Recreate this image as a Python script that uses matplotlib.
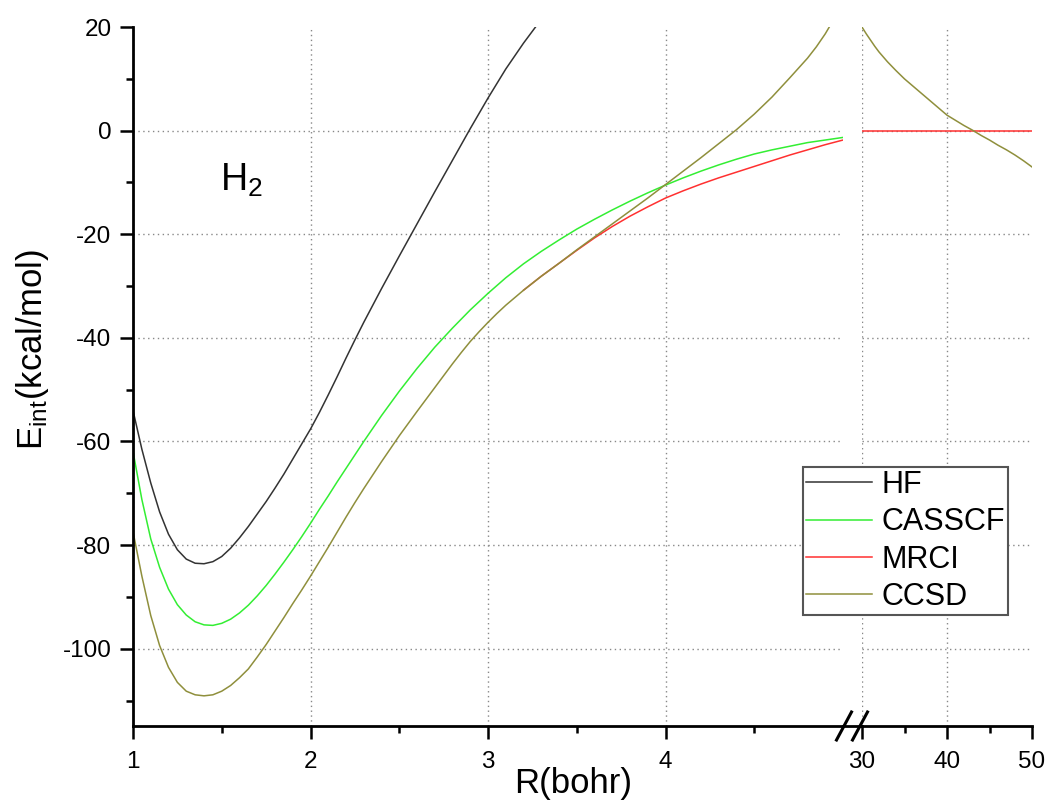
import matplotlib
matplotlib.use("Agg")
import matplotlib.pyplot as plt
from matplotlib.ticker import MultipleLocator, FixedLocator
from matplotlib.lines import Line2D

plt.rcParams['font.family'] = ['Liberation Sans', 'DejaVu Sans']
plt.rcParams['mathtext.default'] = 'regular'
plt.rcParams['axes.unicode_minus'] = False

# 读图估计的数据 (R in bohr, E in kcal/mol)
hf_r = [1.0, 1.05, 1.1, 1.15, 1.2, 1.25, 1.3, 1.35, 1.4, 1.45, 1.5, 1.55, 1.6,
        1.65, 1.7, 1.75, 1.8, 1.85, 1.9, 1.95, 2.0, 2.05, 2.1, 2.15, 2.2, 2.25,
        2.3, 2.4, 2.5, 2.6, 2.7, 2.8, 2.9, 3.0, 3.1, 3.2, 3.3]
hf_e = [-54.0, -61.5, -68.0, -73.6, -77.9, -80.9, -82.7, -83.5, -83.6, -83.2,
        -82.2, -80.6, -78.6, -76.4, -74.0, -71.6, -69.0, -66.3, -63.4, -60.5,
        -57.6, -54.4, -51.0, -47.5, -43.9, -40.4, -37.0, -30.5, -24.2, -18.0,
        -11.8, -5.7, 0.4, 6.3, 11.9, 16.9, 21.5]

cas_r = [1.0, 1.05, 1.1, 1.15, 1.2, 1.25, 1.3, 1.35, 1.4, 1.45, 1.5, 1.55, 1.6,
         1.65, 1.7, 1.75, 1.8, 1.85, 1.9, 1.95, 2.0, 2.05, 2.1, 2.15, 2.2, 2.25,
         2.3, 2.4, 2.5, 2.6, 2.7, 2.8, 2.9, 3.0, 3.1, 3.2, 3.3, 3.4, 3.5, 3.6,
         3.7, 3.8, 3.9, 4.0, 4.1, 4.2, 4.3, 4.4, 4.5, 4.6, 4.7, 4.8, 4.9, 5.0]
cas_e = [-61.9, -71.2, -78.8, -84.3, -88.5, -91.5, -93.5, -94.8, -95.4, -95.5,
         -95.1, -94.3, -93.1, -91.6, -89.8, -87.8, -85.6, -83.3, -80.9, -78.4,
         -75.8, -73.1, -70.5, -67.8, -65.2, -62.6, -60.0, -55.0, -50.3, -45.9,
         -41.8, -38.1, -34.6, -31.4, -28.4, -25.7, -23.3, -21.1, -19.0, -17.1,
         -15.3, -13.6, -12.0, -10.5, -9.1, -7.8, -6.6, -5.5, -4.5, -3.7, -3.0,
         -2.3, -1.8, -1.3]

ccsd_r = [1.0, 1.05, 1.1, 1.15, 1.2, 1.25, 1.3, 1.35, 1.4, 1.45, 1.5, 1.55,
          1.6, 1.65, 1.7, 1.75, 1.8, 1.85, 1.9, 1.95, 2.0, 2.05, 2.1, 2.15,
          2.2, 2.25, 2.3, 2.4, 2.5, 2.6, 2.7, 2.8, 2.85, 2.9, 2.95, 3.0, 3.05,
          3.1, 3.2, 3.3, 3.4, 3.5, 3.6, 3.7, 3.8, 3.9, 4.0, 4.1, 4.2, 4.3,
          4.4, 4.5, 4.6, 4.7, 4.8, 4.85, 4.9, 4.95, 5.0]
ccsd_e = [-77.4, -86.0, -93.6, -99.4, -103.6, -106.5, -108.2, -108.9, -109.1,
          -108.9, -108.2, -107.1, -105.6, -103.9, -101.6, -99.2, -96.6, -94.0,
          -91.3, -88.7, -86.0, -83.2, -80.4, -77.5, -74.6, -71.8, -69.1, -63.9,
          -58.9, -54.2, -49.6, -45.0, -42.8, -40.7, -38.8, -37.0, -35.3, -33.7,
          -30.8, -28.1, -25.6, -23.0, -20.5, -18.0, -15.5, -13.0, -10.4, -7.8,
          -5.2, -2.5, 0.2, 3.2, 6.5, 10.2, 14.0, 16.2, 18.7, 21.6, 25.0]

# MRCI: 在 R<3.3 与 CCSD 重合，只画分开的部分
mrci_r = [3.2, 3.3, 3.4, 3.5, 3.6, 3.7, 3.8, 3.9, 4.0, 4.1, 4.2, 4.3, 4.4, 4.5,
          4.6, 4.7, 4.8, 4.9, 5.0]
mrci_e = [-30.8, -28.1, -25.6, -23.1, -20.7, -18.5, -16.5, -14.7, -13.0, -11.6,
          -10.3, -9.1, -8.0, -6.9, -5.8, -4.7, -3.7, -2.7, -1.8]

# 断轴右侧 (R = 30 ~ 50)
ccsd_far_r = [30, 30.5, 31, 31.5, 32, 33, 34, 35, 36, 37, 38, 39, 40, 41, 42,
              43, 44, 45, 46, 47, 48, 49, 50]
ccsd_far_e = [20.0, 18.7, 17.5, 16.3, 15.2, 13.3, 11.6, 10.0, 8.6, 7.2, 5.8,
              4.4, 3.0, 2.0, 1.0, 0.1, -0.9, -1.8, -2.8, -3.7, -4.7, -5.8, -7.0]
mrci_far_r = [30, 50]
mrci_far_e = [0.0, 0.0]

labels = ["HF", "CASSCF", "MRCI", "CCSD"]
colors = ["#333333", "#33ee33", "#ff3030", "#8f8f3c"]

W, H = 1052, 805
fig = plt.figure(figsize=(W / 100, H / 100), dpi=100)
y_top, y_bot = 27.1, 726.4
ax = fig.add_axes([133 / W, 1 - y_bot / H, (843 - 133) / W, (y_bot - y_top) / H])
ax2 = fig.add_axes([862 / W, 1 - y_bot / H, (1032 - 862) / W, (y_bot - y_top) / H],
                   sharey=ax)

lw = 1.1
l_hf, = ax.plot(hf_r, hf_e, color=colors[0], lw=lw)
l_cas, = ax.plot(cas_r, cas_e, color=colors[1], lw=lw)
l_mr, = ax.plot(mrci_r, mrci_e, color=colors[2], lw=lw)
l_cc, = ax.plot(ccsd_r, ccsd_e, color=colors[3], lw=lw)
ax2.plot(mrci_far_r, mrci_far_e, color=colors[2], lw=lw)
ax2.plot(ccsd_far_r, ccsd_far_e, color=colors[3], lw=lw)

ax.set_xlim(1, 5)
ax2.set_xlim(30, 50)
ax.set_ylim(-115, 20)

ax.xaxis.set_major_locator(FixedLocator([1, 2, 3, 4]))
ax.xaxis.set_minor_locator(FixedLocator([1.5, 2.5, 3.5, 4.5]))
ax2.xaxis.set_major_locator(FixedLocator([30, 40, 50]))
ax2.xaxis.set_minor_locator(FixedLocator([35, 45]))
ax.yaxis.set_major_locator(MultipleLocator(20))
ax.yaxis.set_minor_locator(MultipleLocator(10))

grid_kw = dict(color="#888888", lw=1.0, linestyle=(0, (1, 2.5)))
for a in (ax, ax2):
    a.grid(True, which="major", **grid_kw)
    for s in ("top", "right"):
        a.spines[s].set_visible(False)
    a.spines["bottom"].set_linewidth(2.0)
    a.spines["left"].set_linewidth(2.0)
    a.tick_params(which="major", direction="out", length=9.5, width=1.8,
                  labelsize=17.5, pad=6)
    a.tick_params(which="minor", direction="out", length=5, width=1.8)
    a.tick_params(axis="x", pad=8)
    a.set_axisbelow(True)
ax2.spines["left"].set_visible(False)
ax2.tick_params(axis="y", which="both", left=False, labelleft=False)

# 去掉 y=20 和 x=50 处的网格线
fig.canvas.draw()
for a in (ax, ax2):
    for gl, t in zip(a.get_ygridlines(), a.get_yticks()):
        if t >= 20:
            gl.set_visible(False)
for gl, t in zip(ax2.get_xgridlines(), ax2.get_xticks()):
    if t >= 50:
        gl.set_visible(False)

# 断轴标记
yb = 1 - y_bot / H
fig.add_artist(Line2D([843 / W, 862 / W], [yb, yb], color="black", lw=2.0))
for xc in (844, 860):
    fig.add_artist(Line2D([(xc - 7.5) / W, (xc + 7.5) / W],
                          [1 - 740 / H, 1 - 712 / H], color="black", lw=2.2))

ax.text(1.49, -11.6, "H$_2$", fontsize=27)

fig.text(573 / W, 1 - 783 / H, "R(bohr)", ha="center", va="center", fontsize=25)
fig.text(33 / W, 1 - 350 / H, "E$_{int}$(kcal/mol)", ha="center", va="center",
         rotation=90, fontsize=25)

leg = fig.legend([l_hf, l_cas, l_mr, l_cc], labels, loc="upper left",
                 bbox_to_anchor=(803 / W, 1 - 467 / H), fontsize=22,
                 frameon=True, fancybox=False, edgecolor="#555555",
                 framealpha=1, handlelength=2.15, handletextpad=0.33,
                 labelspacing=0.24, borderpad=0.1, borderaxespad=0)
leg.get_frame().set_linewidth(1.5)

fig.savefig("out.png", dpi=100)
